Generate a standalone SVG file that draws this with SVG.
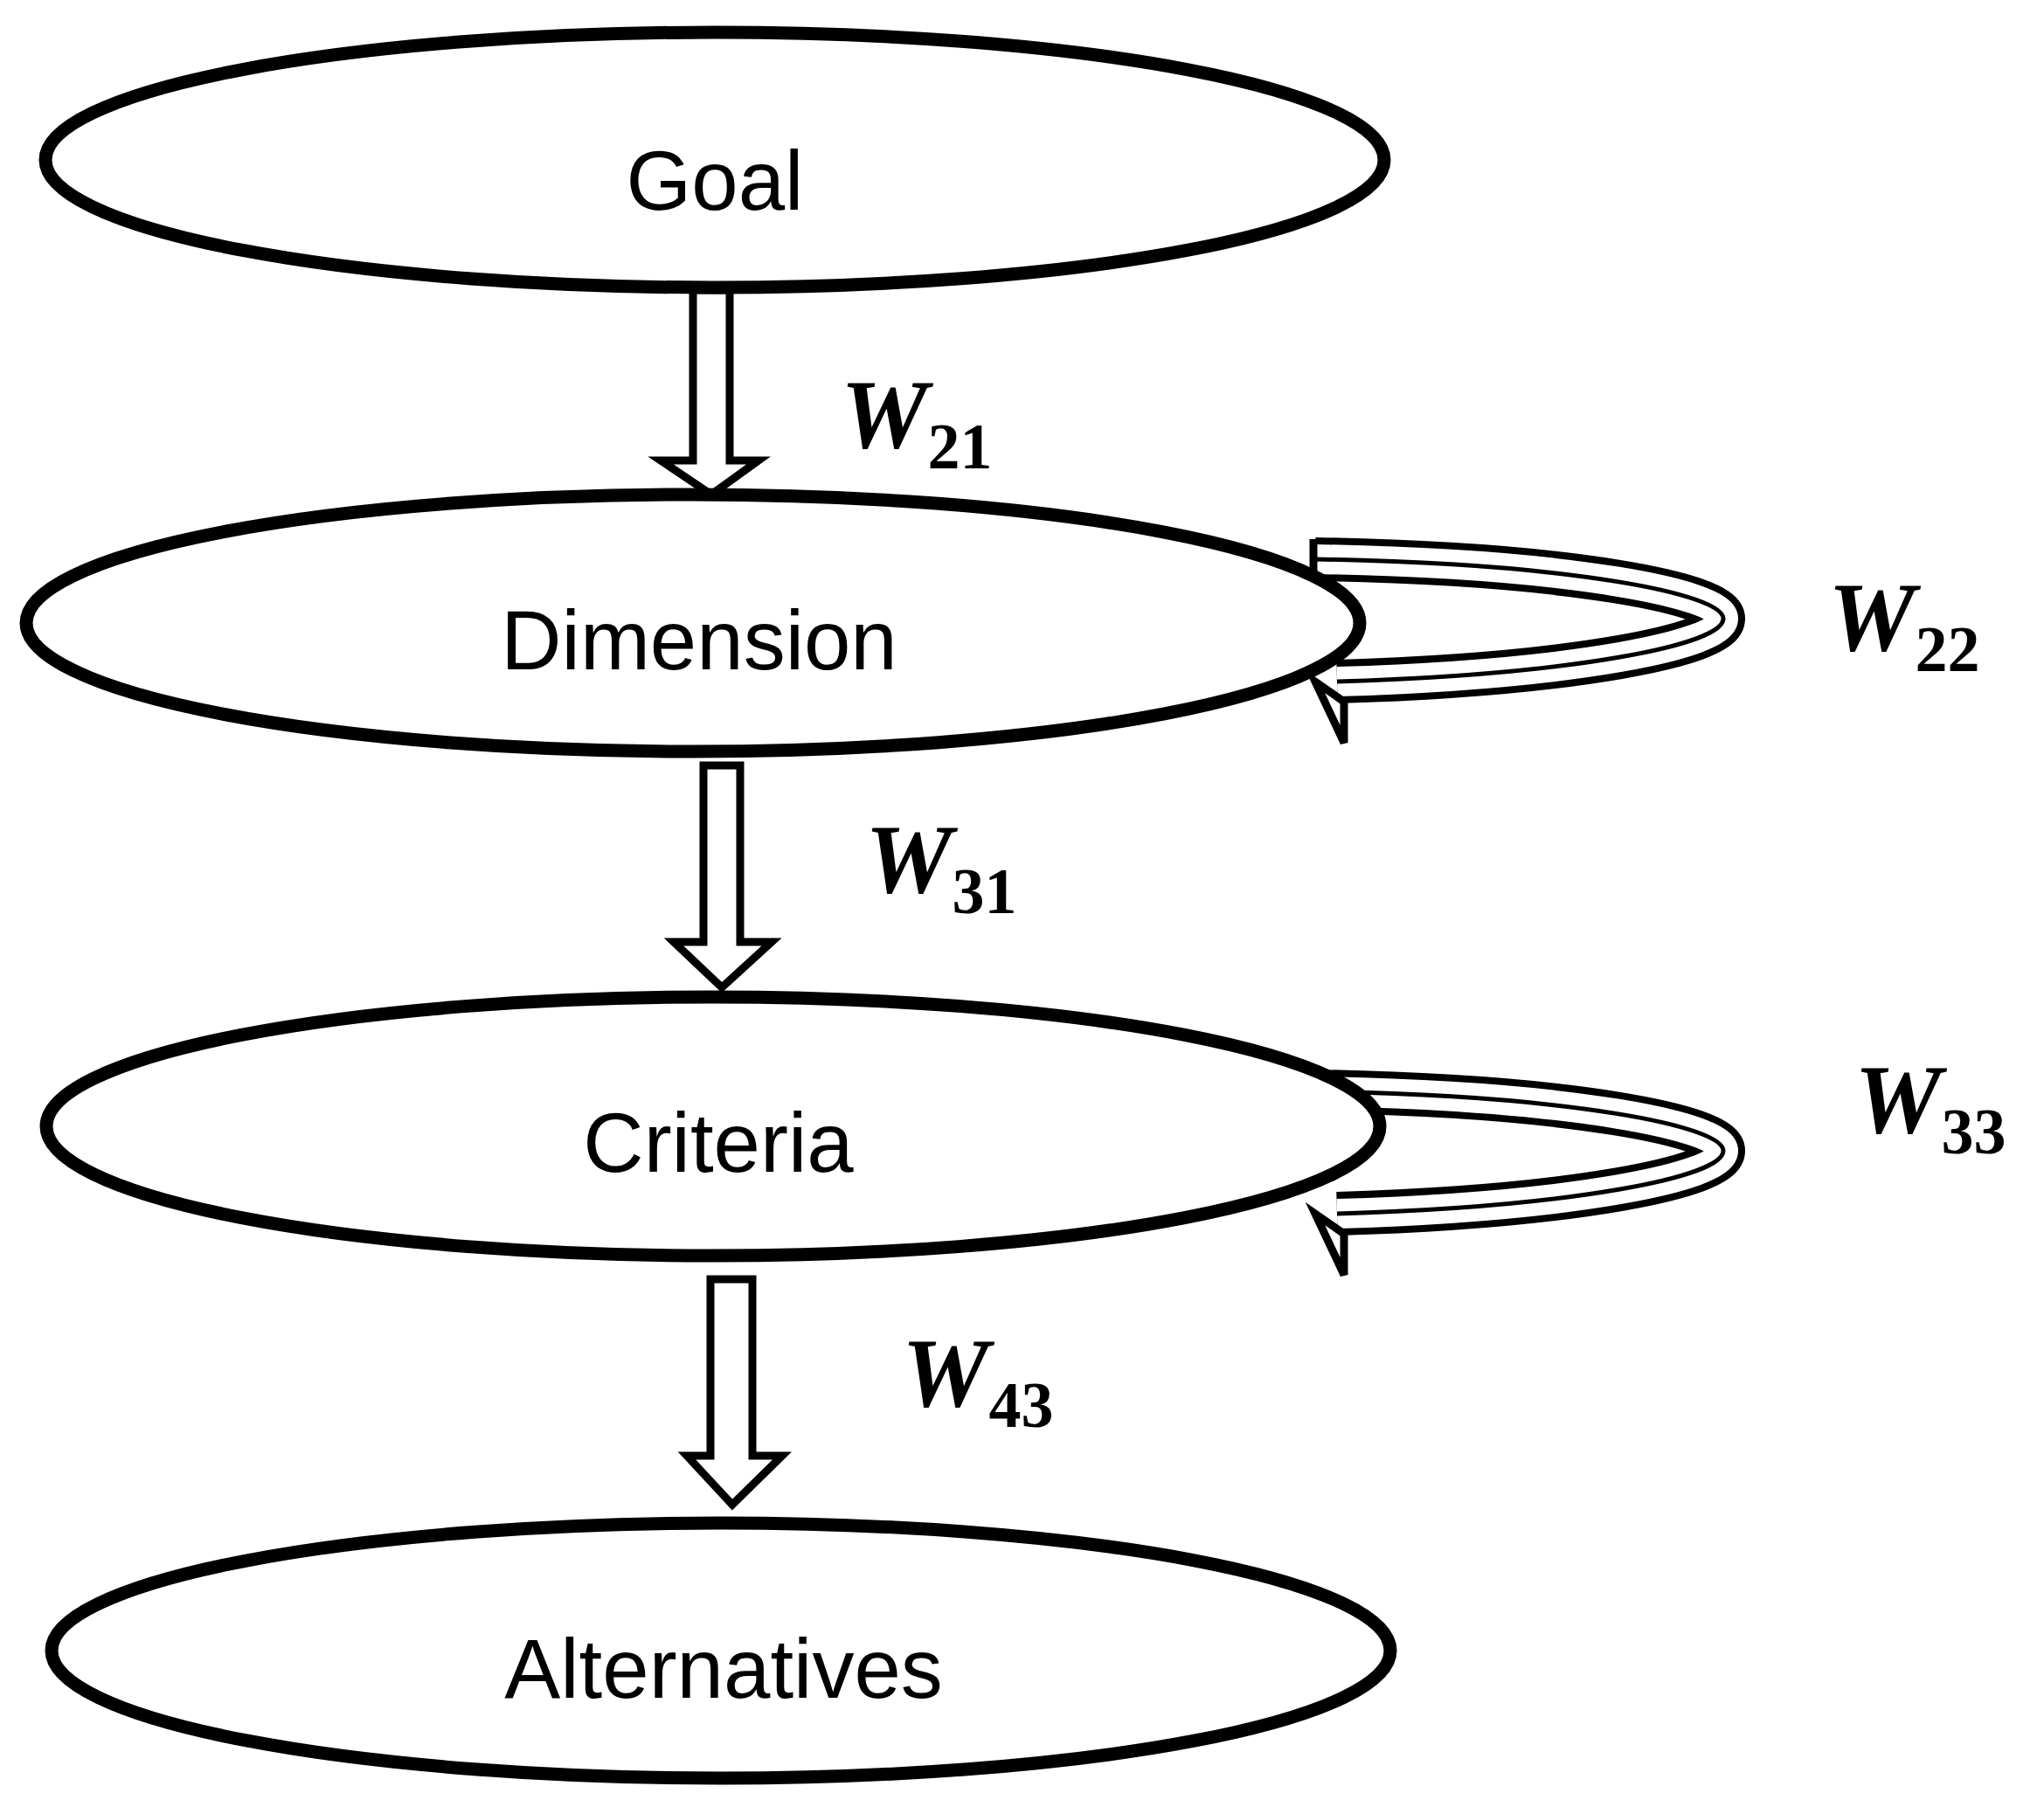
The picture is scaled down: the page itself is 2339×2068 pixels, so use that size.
<svg xmlns="http://www.w3.org/2000/svg" width="2339" height="2068" viewBox="0 0 2339 2068">
<style>
.n{fill:#fff;stroke:#000;stroke-width:15}
.t{font-family:"Liberation Sans",Arial,sans-serif;font-size:96px;text-anchor:middle;fill:#000}
.w{font-family:"Liberation Serif","DejaVu Serif",serif;font-style:italic;font-weight:bold;font-size:112px;fill:#000}
.s{font-size:74px;font-style:normal}
.a{fill:#fff;stroke:#000;stroke-width:9;stroke-linejoin:miter}
.lb{fill:none;stroke:#000;stroke-width:50}
.lw{fill:none;stroke:#fff;stroke-width:34}
.lm{fill:none;stroke:#000;stroke-width:5}
</style>
<rect width="2339" height="2068" fill="#fff"/>
<g id="connectors">
<polygon class="a" points="793,332 835,332 835,527 868,527 814,566 756,527 793,527"/>
<polygon class="a" points="805,876 847,876 847,1078 883,1078 826,1130 771,1078 805,1078"/>
<polygon class="a" points="813,1464 861,1464 861,1666 895,1666 838,1722 786,1666 813,1666"/>
<g id="loop22">
<path class="lb" d="M1505,640 C1800,645 1972,680 1972,708 C1972,738 1800,772 1530,780"/>
<path class="lw" d="M1505,640 C1800,645 1972,680 1972,708 C1972,738 1800,772 1530,780"/>
<path class="lm" d="M1505,640 C1800,645 1972,680 1972,708 C1972,738 1800,772 1530,780"/>
<polyline fill="none" stroke="#000" stroke-width="9" points="1503,617 1503,663"/>
<polygon fill="#fff" stroke="#000" stroke-width="9" points="1505,780 1538,850 1538,803"/>
</g>
<g id="loop33" transform="translate(0,609)">
<path class="lb" d="M1505,640 C1800,645 1972,680 1972,708 C1972,738 1800,772 1530,780"/>
<path class="lw" d="M1505,640 C1800,645 1972,680 1972,708 C1972,738 1800,772 1530,780"/>
<path class="lm" d="M1505,640 C1800,645 1972,680 1972,708 C1972,738 1800,772 1530,780"/>
<polyline fill="none" stroke="#000" stroke-width="9" points="1503,617 1503,663"/>
<polygon fill="#fff" stroke="#000" stroke-width="9" points="1505,780 1538,850 1538,803"/>
</g>
</g>
<g id="goal"><ellipse class="n" cx="818" cy="183" rx="766" ry="146"/><text class="t" x="818" y="240">Goal</text></g>
<g id="dimension"><ellipse class="n" cx="793" cy="713" rx="763" ry="147"/><text class="t" x="800" y="766">Dimension</text></g>
<g id="criteria"><ellipse class="n" cx="816" cy="1289" rx="763" ry="148"/><text class="t" x="822" y="1341">Criteria</text></g>
<g id="alternatives"><ellipse class="n" cx="825" cy="1889" rx="766" ry="146"/><text class="t" x="828" y="1943">Alternatives</text></g>
<g id="labels">
<text class="w" x="962" y="512">W<tspan class="s" dy="24">21</tspan></text>
<text class="w" x="2092" y="744">W<tspan class="s" dy="24">22</tspan></text>
<text class="w" x="990" y="1021">W<tspan class="s" dy="24">31</tspan></text>
<text class="w" x="2122" y="1296">W<tspan class="s" dy="24">33</tspan></text>
<text class="w" x="1032" y="1609">W<tspan class="s" dy="24">43</tspan></text>
</g>
</svg>
